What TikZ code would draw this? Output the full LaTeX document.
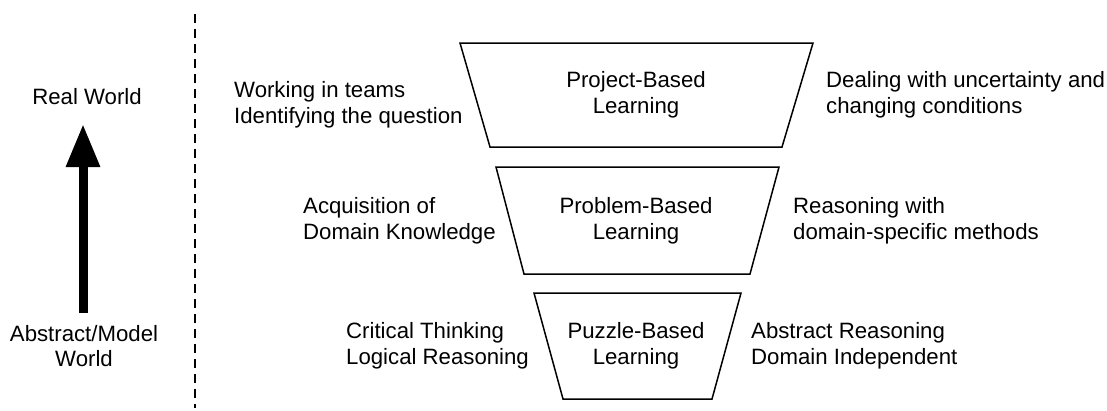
\documentclass[tikz,border=0pt]{standalone}
\usepackage{fontspec}
\setmainfont{Liberation Sans}
\usetikzlibrary{arrows.meta}

\tikzset{
  label text/.style={inner sep=0pt, align=left, anchor=west,
    font=\fontsize{22.2}{25.8}\selectfont},
  level text/.style={inner sep=0pt, align=center,
    font=\fontsize{22.2}{25.8}\selectfont},
  level box/.style={line width=1.5pt, line join=miter},
}

\begin{document}
\begin{tikzpicture}[x=1pt, y=-1pt]

\useasboundingbox (0, 0) rectangle (1107, 410);

% draw divider
\draw[line width=1.2pt, dash pattern=on 9pt off 6pt] (195, 14) -- (195, 408);

% draw direction arrow
\coordinate (abstract end) at (83, 313);
\coordinate (real end) at (83, 124);
\draw[line width=9pt, -{Triangle[length=43pt, width=32pt]}] (abstract end) -- (real end);
\node[level text] (real) at (87, 97) {Real World};
\node[level text] (abstract) at (84, 346) {Abstract/Model\\World};

% draw funnel levels
\draw[level box] (460, 43) -- (813, 43) -- (782, 147) -- (490, 147) -- cycle;
\draw[level box] (496, 167) -- (779, 167) -- (750, 274) -- (524, 274) -- cycle;
\draw[level box] (534, 293) -- (741, 293) -- (712, 399) -- (563, 399) -- cycle;

\node[level text] (project) at (636, 95) {Project-Based\\Learning};
\node[level text] (problem) at (636, 220.5) {Problem-Based\\Learning};
\node[level text] (puzzle) at (636, 346) {Puzzle-Based\\Learning};

% draw side labels
\node[label text] (project left) at (234, 104.5) {Working in teams\\Identifying the question};
\node[label text] (project right) at (826, 95) {Dealing with uncertainty and\\changing conditions};
\node[label text] (problem left) at (303, 220.5) {Acquisition of\\Domain Knowledge};
\node[label text] (problem right) at (793, 220.5) {Reasoning with\\domain-specific methods};
\node[label text] (puzzle left) at (346, 345.5) {Critical Thinking\\Logical Reasoning};
\node[label text] (puzzle right) at (751, 345.5) {Abstract Reasoning\\Domain Independent};

\end{tikzpicture}
\end{document}
